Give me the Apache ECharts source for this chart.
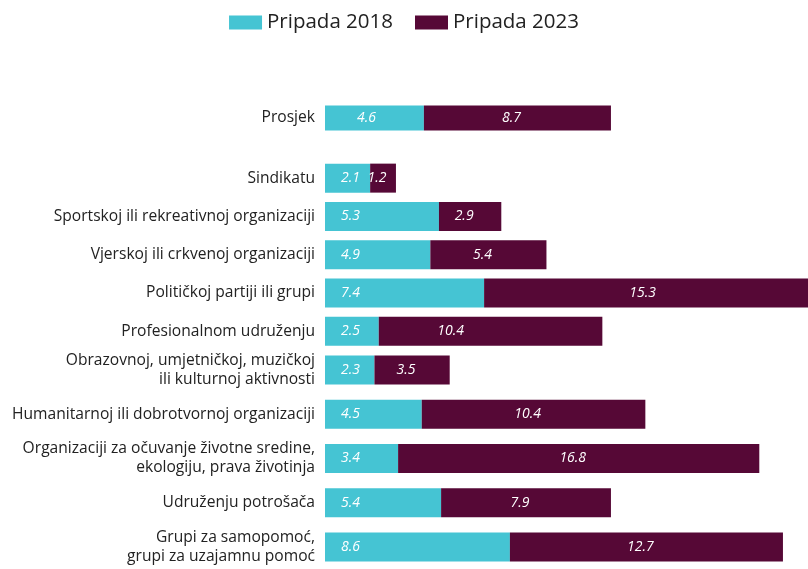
<!DOCTYPE html>
<html>
<head>
<meta charset="utf-8">
<script src="https://cdn.jsdelivr.net/npm/echarts@6/dist/echarts.min.js"></script>
<style>
html,body{margin:0;padding:0;background:#fff;}
#chart{width:808px;height:569px;}
</style>
</head>
<body>
<div id="chart"></div>
<script>
const categories = [
  "Prosjek",
  "Sindikatu",
  "Sportskoj ili rekreativnoj organizaciji",
  "Vjerskoj ili crkvenoj organizaciji",
  "Političkoj partiji ili grupi",
  "Profesionalnom udruženju",
  "Obrazovnoj, umjetničkoj, muzičkoj\nili kulturnoj aktivnosti",
  "Humanitarnoj ili dobrotvornoj organizaciji",
  "Organizaciji za očuvanje životne sredine,\nekologiju, prava životinja",
  "Udruženju potrošača",
  "Grupi za samopomoć,\ngrupi za uzajamnu pomoć"
];
const values2018 = [4.6, 2.1, 5.3, 4.9, 7.4, 2.5, 2.3, 4.5, 3.4, 5.4, 8.6];
const values2023 = [8.7, 1.2, 2.9, 5.4, 15.3, 10.4, 3.5, 10.4, 16.8, 7.9, 12.7];
const seriesNames = ["Pripada 2018", "Pripada 2023"];

const C18 = "#45C4D3";
const C23 = "#560836";
const FONT = "Open Sans";

// row groups: [startIndex, endIndex)
const groups = [[0, 1], [1, 6], [6, 11]];
const gridLayout = [
  {top: 105, height: 26, bar: 25},
  {top: 159, height: 191.25, bar: 29},
  {top: 347.75, height: 222.5, bar: 29}
];
const X_MAX = 483 / 21.5;

const grids = [], xAxes = [], yAxes = [], series = [];
groups.forEach((g, gi) => {
  const L = gridLayout[gi];
  grids.push({left: 325, right: 0, top: L.top, height: L.height, containLabel: false});
  xAxes.push({type: 'value', gridIndex: gi, min: 0, max: X_MAX, show: false});
  yAxes.push({
    type: 'category', gridIndex: gi, inverse: true,
    data: categories.slice(g[0], g[1]),
    axisLine: {show: false}, axisTick: {show: false}, splitLine: {show: false},
    axisLabel: {margin: 10, fontFamily: FONT, fontSize: 15.6, color: '#222', lineHeight: 19, align: 'right'}
  });
  const d18 = values2018.slice(g[0], g[1]).map((v, i) => {
    const idx = g[0] + i;
    return idx === 0 ? {value: v, label: {distance: 32}} : v;
  });
  const d23 = values2023.slice(g[0], g[1]).map((v, i) => {
    const idx = g[0] + i;
    if (idx === 5) return {value: v, label: {offset: [-40, 0]}};
    return {value: v, label: {offset: [-6, 0]}};
  });
  series.push({
    name: seriesNames[0], type: 'bar', stack: 's' + gi, xAxisIndex: gi, yAxisIndex: gi,
    data: d18, barWidth: L.bar, itemStyle: {color: C18}, clip: false,
    label: {show: true, position: 'insideLeft', distance: 16, color: '#fff', fontStyle: 'italic', fontFamily: FONT, fontSize: 14,
      formatter: p => p.value.toFixed(1)}
  });
  series.push({
    name: seriesNames[1], type: 'bar', stack: 's' + gi, xAxisIndex: gi, yAxisIndex: gi,
    data: d23, barWidth: L.bar, itemStyle: {color: C23}, clip: false,
    label: {show: true, position: 'inside', color: '#fff', fontStyle: 'italic', fontFamily: FONT, fontSize: 14,
      formatter: p => p.value.toFixed(1)}
  });
});

const chart = echarts.init(document.getElementById('chart'), null, {renderer: 'canvas'});
chart.setOption({
  animation: false,
  backgroundColor: '#fff',
  legend: {
    top: 7, left: 'center', data: seriesNames,
    itemWidth: 33, itemHeight: 14, itemGap: 22,
    icon: 'rect',
    textStyle: {fontFamily: FONT, fontSize: 20.5, color: '#222'}
  },
  grid: grids, xAxis: xAxes, yAxis: yAxes, series: series
});
</script>
</body>
</html>
